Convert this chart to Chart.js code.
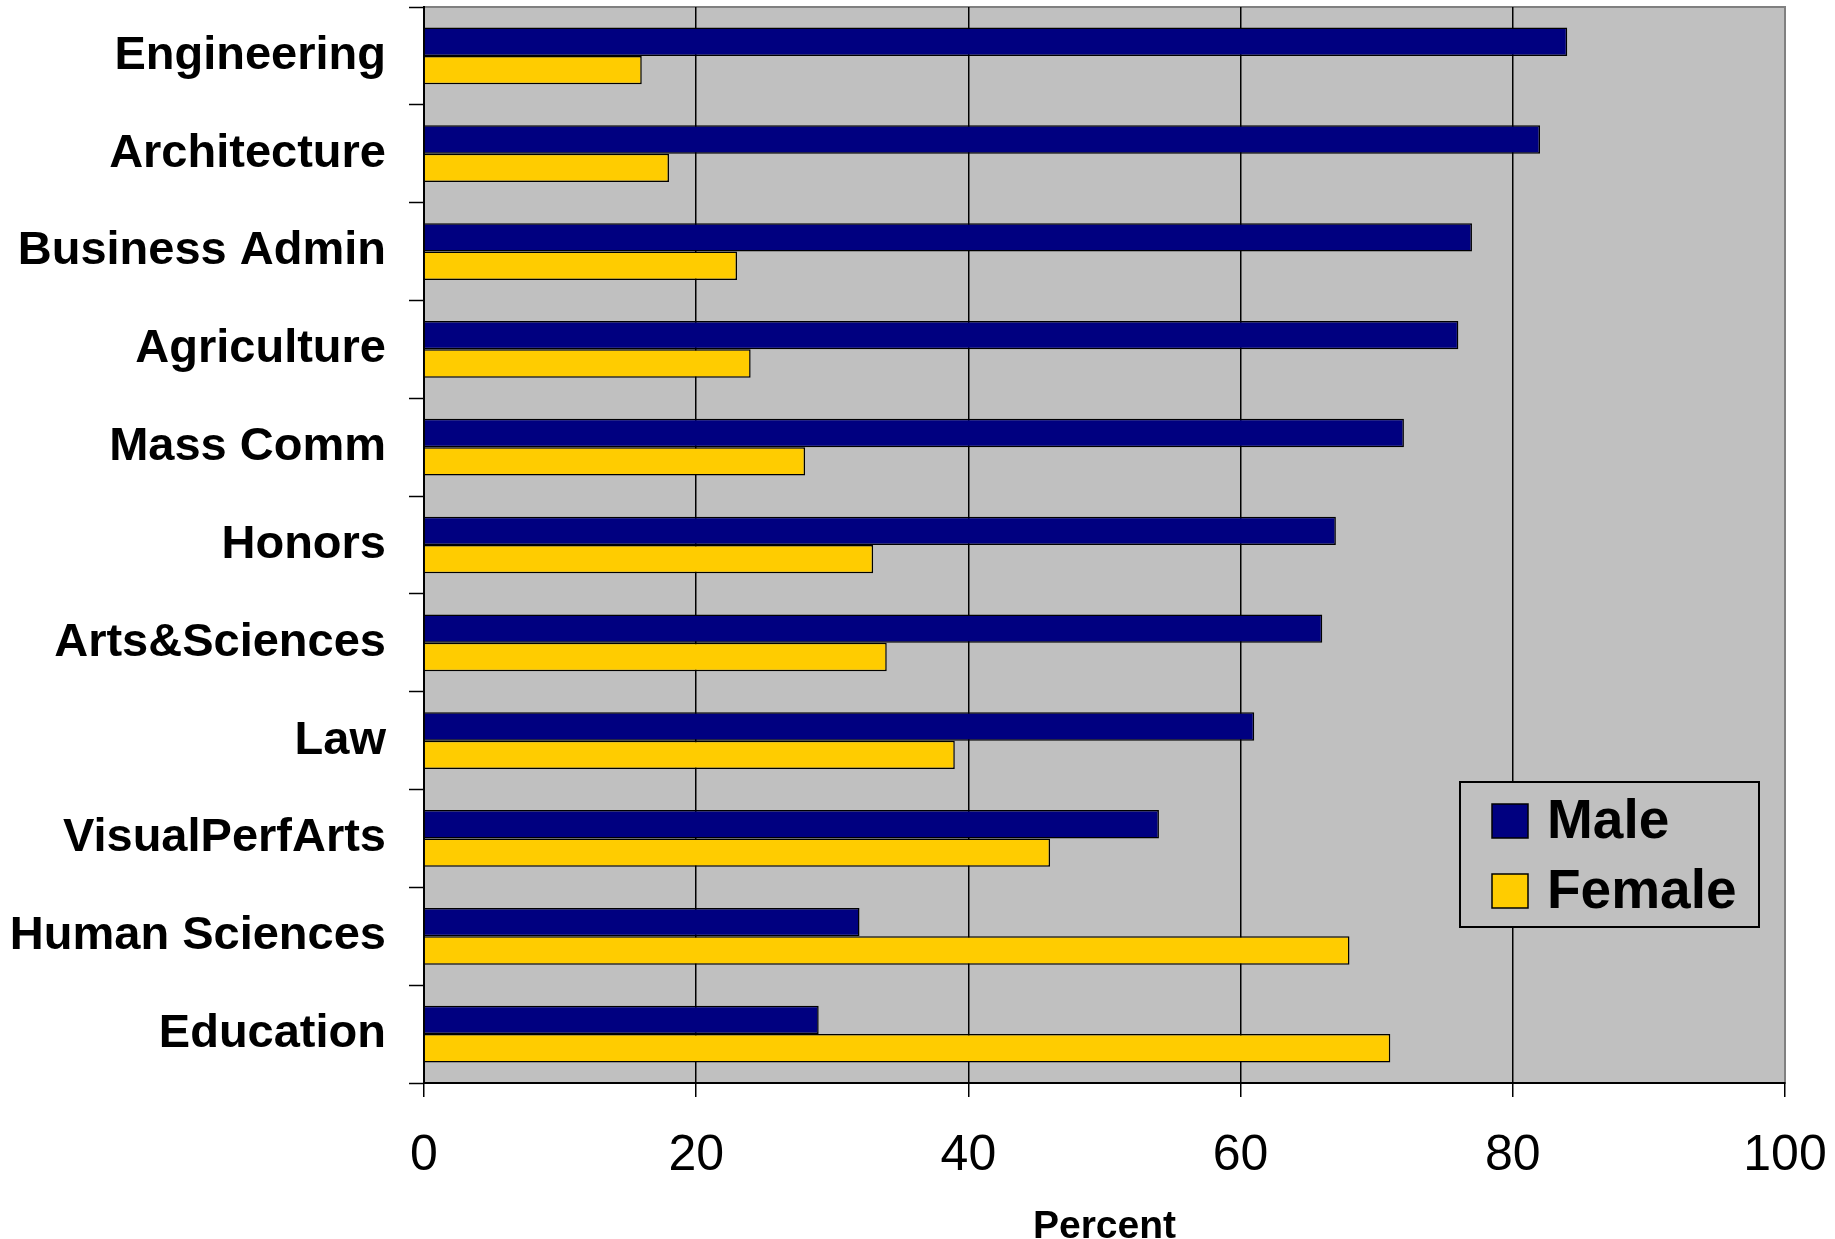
<!DOCTYPE html>
<html>
<head>
<meta charset="utf-8">
<script src="https://cdn.jsdelivr.net/npm/chart.js@4/dist/chart.umd.min.js"></script>
<style>
  body { margin: 0; background: #ffffff; }
</style>
</head>
<body>
<canvas id="genderChart" width="1835" height="1239"></canvas>
<script>
// chart data
var colleges = ["Engineering", "Architecture", "Business Admin", "Agriculture", "Mass Comm", "Honors",
    "Arts&Sciences", "Law", "VisualPerfArts", "Human Sciences", "Education"];
var maleValues = [84, 82, 77, 76, 72, 67, 66, 61, 54, 32, 29];
var femaleValues = [16, 18, 23, 24, 28, 33, 34, 39, 46, 68, 71];
var seriesNames = ["Male", "Female"];
var percentTicks = [0, 20, 40, 60, 80, 100];

var fontFam = "'Liberation Sans', Arial, sans-serif";

// grey plot area with thin border
var plotBg = {
    id: 'plotBg',
    beforeDraw: function (chart) {
        var a = chart.chartArea;
        var c = chart.ctx;
        c.save();
        c.fillStyle = '#c0c0c0';
        c.fillRect(a.left, a.top, a.right - a.left, a.bottom - a.top);
        c.strokeStyle = '#808080';
        c.lineWidth = 2;
        c.strokeRect(a.left, a.top, a.right - a.left, a.bottom - a.top);
        c.restore();
    }
};

// boxed legend inside the plot, bottom right
var boxLegend = {
    id: 'boxLegend',
    afterDraw: function (chart) {
        var a = chart.chartArea;
        var c = chart.ctx;
        var w = 299, h = 145;
        var x = a.right - 26 - w;
        var y = a.bottom - 156 - h;
        c.save();
        c.fillStyle = '#c0c0c0';
        c.fillRect(x, y, w, h);
        c.strokeStyle = '#000000';
        c.lineWidth = 2;
        c.strokeRect(x, y, w, h);
        c.font = 'bold 55px ' + fontFam;
        c.textBaseline = 'middle';
        c.textAlign = 'left';
        chart.data.datasets.forEach(function (ds, i) {
            var cy = y + 39 + i * 70;
            c.fillStyle = ds.backgroundColor;
            c.fillRect(x + 32, cy - 17, 36, 34);
            c.strokeStyle = '#000000';
            c.lineWidth = 1.5;
            c.strokeRect(x + 32, cy - 17, 36, 34);
            c.fillStyle = '#000000';
            c.fillText(ds.label, x + 87, cy + 2);
        });
        c.restore();
    }
};

var ctx = document.getElementById("genderChart").getContext('2d');

var genderChart = new Chart(ctx, {
    type: 'bar',
    data: {
        labels: colleges,
        datasets: [{
            label: seriesNames[0],
            data: maleValues,
            backgroundColor: '#000080',
            borderColor: '#000000',
            borderWidth: 1.5
        }, {
            label: seriesNames[1],
            data: femaleValues,
            backgroundColor: '#ffcc00',
            borderColor: '#000000',
            borderWidth: 1.5
        }]
    },
    options: {
        indexAxis: 'y',
        responsive: false,
        animation: false,
        categoryPercentage: 0.58,
        barPercentage: 1.0,
        layout: {
            padding: { top: 7, right: 50, bottom: 0, left: 0 }
        },
        plugins: {
            legend: { display: false },
            tooltip: { enabled: false }
        },
        scales: {
            x: {
                min: 0,
                max: 100,
                afterBuildTicks: function (axis) {
                    axis.ticks = percentTicks.map(function (v) { return { value: v }; });
                },
                afterFit: function (axis) {
                    axis.height = 156;
                    axis.paddingLeft = 0;
                    axis.paddingRight = 0;
                },
                grid: {
                    color: function (c) {
                        return c.tick && c.tick.value === 100 ? '#808080' : '#000000';
                    },
                    lineWidth: 1.5,
                    drawTicks: true,
                    tickLength: 14,
                    tickColor: '#000000',
                    tickWidth: 1.5
                },
                border: { color: '#000000', width: 2 },
                ticks: {
                    color: '#000000',
                    padding: 29,
                    font: { family: fontFam, size: 50 }
                },
                title: {
                    display: true,
                    text: 'Percent',
                    color: '#000000',
                    padding: { top: 0, bottom: 0 },
                    font: { family: fontFam, size: 39, weight: 'bold', lineHeight: 0.6 }
                }
            },
            y: {
                afterFit: function (axis) {
                    axis.width = 424;
                    axis.paddingTop = 0;
                    axis.paddingBottom = 0;
                },
                grid: {
                    offset: true,
                    drawOnChartArea: false,
                    drawTicks: true,
                    tickLength: 15,
                    color: '#000000',
                    tickColor: '#000000',
                    tickWidth: 1.5
                },
                border: { color: '#000000', width: 2 },
                ticks: {
                    color: '#000000',
                    padding: 23,
                    autoSkip: false,
                    font: { family: fontFam, size: 47, weight: 'bold' }
                }
            }
        }
    },
    plugins: [plotBg, boxLegend]
});
</script>
</body>
</html>
